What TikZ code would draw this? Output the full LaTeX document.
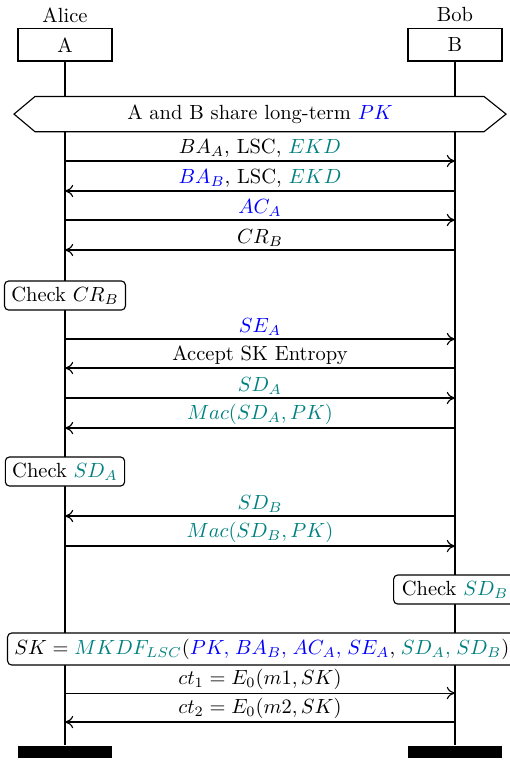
\documentclass[tikz,border=0pt]{standalone}
\usepackage{xcolor}
\usepackage{amsmath,amssymb}
\usetikzlibrary{arrows.meta}

\begin{document}
\begin{tikzpicture}[line width=0.55pt,
  msg/.style={-{To[length=4pt,width=6pt]}},
  inst/.style={draw,fill=white,minimum width=1.61cm,minimum height=0.55cm},
  endbar/.style={fill=black,minimum width=1.61cm,minimum height=0.22cm,inner sep=0pt,anchor=north},
  chk/.style={draw,fill=white,rounded corners=2pt,inner ysep=2.8pt},
  lbl/.style={above,inner sep=1.5pt}]
\useasboundingbox (0,0) rectangle (8.726,-13.08);
\node (alice) at (1.114,-0.257) {Alice};
\node (bob) at (7.8,-0.257) {Bob};
\node[endbar] (Aend) at (1.114,-12.772) {};
\node[endbar] (Bend) at (7.8,-12.772) {};
\draw (1.114,-0.771) -- (Aend.north);
\draw (7.8,-0.771) -- (Bend.north);
\node[inst] (A) at (1.114,-0.771) {A};
\node[inst] (B) at (7.8,-0.771) {B};
\foreach \n/\y in {1/-2.760,2/-3.274,3/-3.772,4/-4.286,5/-5.812,6/-6.309,7/-6.823,8/-7.338,9/-8.846,10/-9.361,11/-11.881,12/-12.378}{
  \coordinate (a\n) at (1.114,\y);
  \coordinate (b\n) at (7.8,\y);
}
\draw[fill=white] (0.24,-1.956) -- (0.6,-1.654) -- (8.298,-1.654) -- (8.675,-1.956) -- (8.298,-2.258) -- (0.6,-2.258) -- cycle;
\node (share) at (4.457,-1.956) {A and B share long-term $\color{blue}PK$};
\draw[msg] (a1) -- node[lbl] {$BA_A$, LSC, $\color{teal}EKD$} (b1);
\draw[msg] (b2) -- node[lbl] {$\color{blue}BA_B$, LSC, $\color{teal}EKD$} (a2);
\draw[msg] (a3) -- node[lbl] {$\color{blue}AC_A$} (b3);
\draw[msg] (b4) -- node[lbl] {$CR_B$} (a4);
\node[chk] (chkA) at (1.114,-5.066) {Check $CR_B$};
\draw[msg] (a5) -- node[lbl] {$\color{blue}SE_A$} (b5);
\draw[msg] (b6) -- node[lbl] {Accept SK Entropy} (a6);
\draw[msg] (a7) -- node[lbl] {$\color{teal}SD_A$} (b7);
\draw[msg] (b8) -- node[lbl] {$\color{teal}Mac(SD_A,PK)$} (a8);
\node[chk] (chkSDA) at (1.114,-8.083) {Check $\color{teal}SD_A$};
\draw[msg] (b9) -- node[lbl] {$\color{teal}SD_B$} (a9);
\draw[msg] (a10) -- node[lbl] {$\color{teal}Mac(SD_B,PK)$} (b10);
\node[chk,inner xsep=4pt] (chkSDB) at (7.8,-10.106) {Check $\color{teal}SD_B$};
\node[chk,anchor=west,text width=9cm,align=left] (sk) at (0.12,-11.126) {\thinmuskip=5mu $SK={\color{teal}MKDF_{LSC}}({\color{blue}PK,BA_B,AC_A,SE_A},{\color{teal}SD_A,SD_B})$};
\draw[msg] (a11) -- node[lbl] {$ct_1=E_0(m1,SK)$} (b11);
\draw[msg] (b12) -- node[lbl] {$ct_2=E_0(m2,SK)$} (a12);
\end{tikzpicture}
\end{document}
